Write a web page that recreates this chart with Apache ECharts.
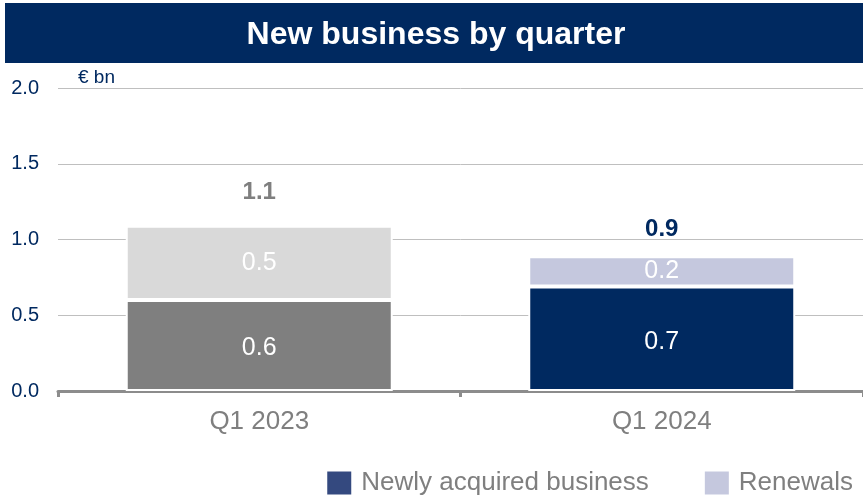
<!DOCTYPE html>
<html><head><meta charset="utf-8">
<script src="https://cdn.jsdelivr.net/npm/echarts@6/dist/echarts.min.js"></script>
<style>html,body{margin:0;padding:0;background:#fff}#c{width:863px;height:495px}</style>
</head><body><div id="c"></div>
<script>
const categories = ['Q1 2023', 'Q1 2024'];
const newlyAcquired = [0.6, 0.69];
const renewals = [0.49, 0.2];
const totals = [1.1, 0.9];
const yTicks = [0, 0.5, 1.0, 1.5, 2.0];

const newlyColors = ['#7f7f7f', '#002960'];
const renewColors = ['#d9d9d9', '#c5c8de'];
const totalColors = ['#7f7f7f', '#002960'];
const totalDistance = [21, 15];
const font = 'Liberation Sans, Arial, sans-serif';

const chart = echarts.init(document.getElementById('c'));
chart.setOption({
  animation: false,
  textStyle: { fontFamily: font },
  graphic: [
    { type: 'rect', shape: { x: 5, y: 3, width: 858, height: 60 }, style: { fill: '#002960' } },
    { type: 'text', x: 436, y: 35, style: { text: 'New business by quarter', fill: '#fff', font: 'bold 32px ' + font, textAlign: 'center', textVerticalAlign: 'middle' } },
    { type: 'text', x: 78, y: 78, style: { text: '€ bn', fill: '#002960', font: '19px ' + font, textVerticalAlign: 'middle' } }
  ],
  legend: {
    data: ['Newly acquired business', 'Renewals'],
    right: 5, top: 465, itemWidth: 24, itemHeight: 23, itemGap: 56,
    textStyle: { color: '#7f7f7f', fontSize: 26, fontFamily: font, padding: [0, 0, 0, 5] },
    icon: 'rect'
  },
  grid: { left: 58, width: 808, top: 88, bottom: 104 },
  xAxis: {
    type: 'category', data: categories,
    axisLine: { lineStyle: { color: '#8c8c8c', width: 3 } },
    axisTick: { show: true, length: 6, lineStyle: { color: '#8c8c8c', width: 3 } },
    axisLabel: { color: '#7f7f7f', fontSize: 26, margin: 18, fontFamily: font }
  },
  yAxis: {
    type: 'value', min: yTicks[0], max: yTicks[yTicks.length - 1], interval: 0.5,
    axisLine: { show: false }, axisTick: { show: false },
    axisLabel: { color: '#002960', fontSize: 20, margin: 19, fontFamily: font, formatter: v => v.toFixed(1) },
    splitLine: { lineStyle: { color: '#bfbfbf', width: 1 } }
  },
  series: [
    {
      name: 'Newly acquired business', type: 'bar', stack: 's', barWidth: 267,
      itemStyle: { color: '#34497f' },
      data: newlyAcquired.map((v, i) => ({ value: v, itemStyle: { color: newlyColors[i], borderColor: '#fff', borderWidth: 2 } })),
      label: { show: true, position: 'inside', color: '#fff', fontSize: 25, fontFamily: font, offset: [0, 3], formatter: p => p.value.toFixed(1) }
    },
    {
      name: 'Renewals', type: 'bar', stack: 's',
      itemStyle: { color: '#c5c8de' },
      data: renewals.map((v, i) => ({ value: v, itemStyle: { color: renewColors[i], borderColor: '#fff', borderWidth: 2 } })),
      label: { show: true, position: 'inside', color: '#fff', fontSize: 25, fontFamily: font, formatter: p => p.value.toFixed(1) }
    },
    {
      name: 'Total', type: 'bar', stack: 's',
      data: totals.map((t, i) => ({ value: 0, label: { color: totalColors[i], distance: totalDistance[i], formatter: t.toFixed(1) } })),
      label: { show: true, position: 'top', fontSize: 24, fontWeight: 'bold', fontFamily: font }
    }
  ]
});
</script></body></html>
